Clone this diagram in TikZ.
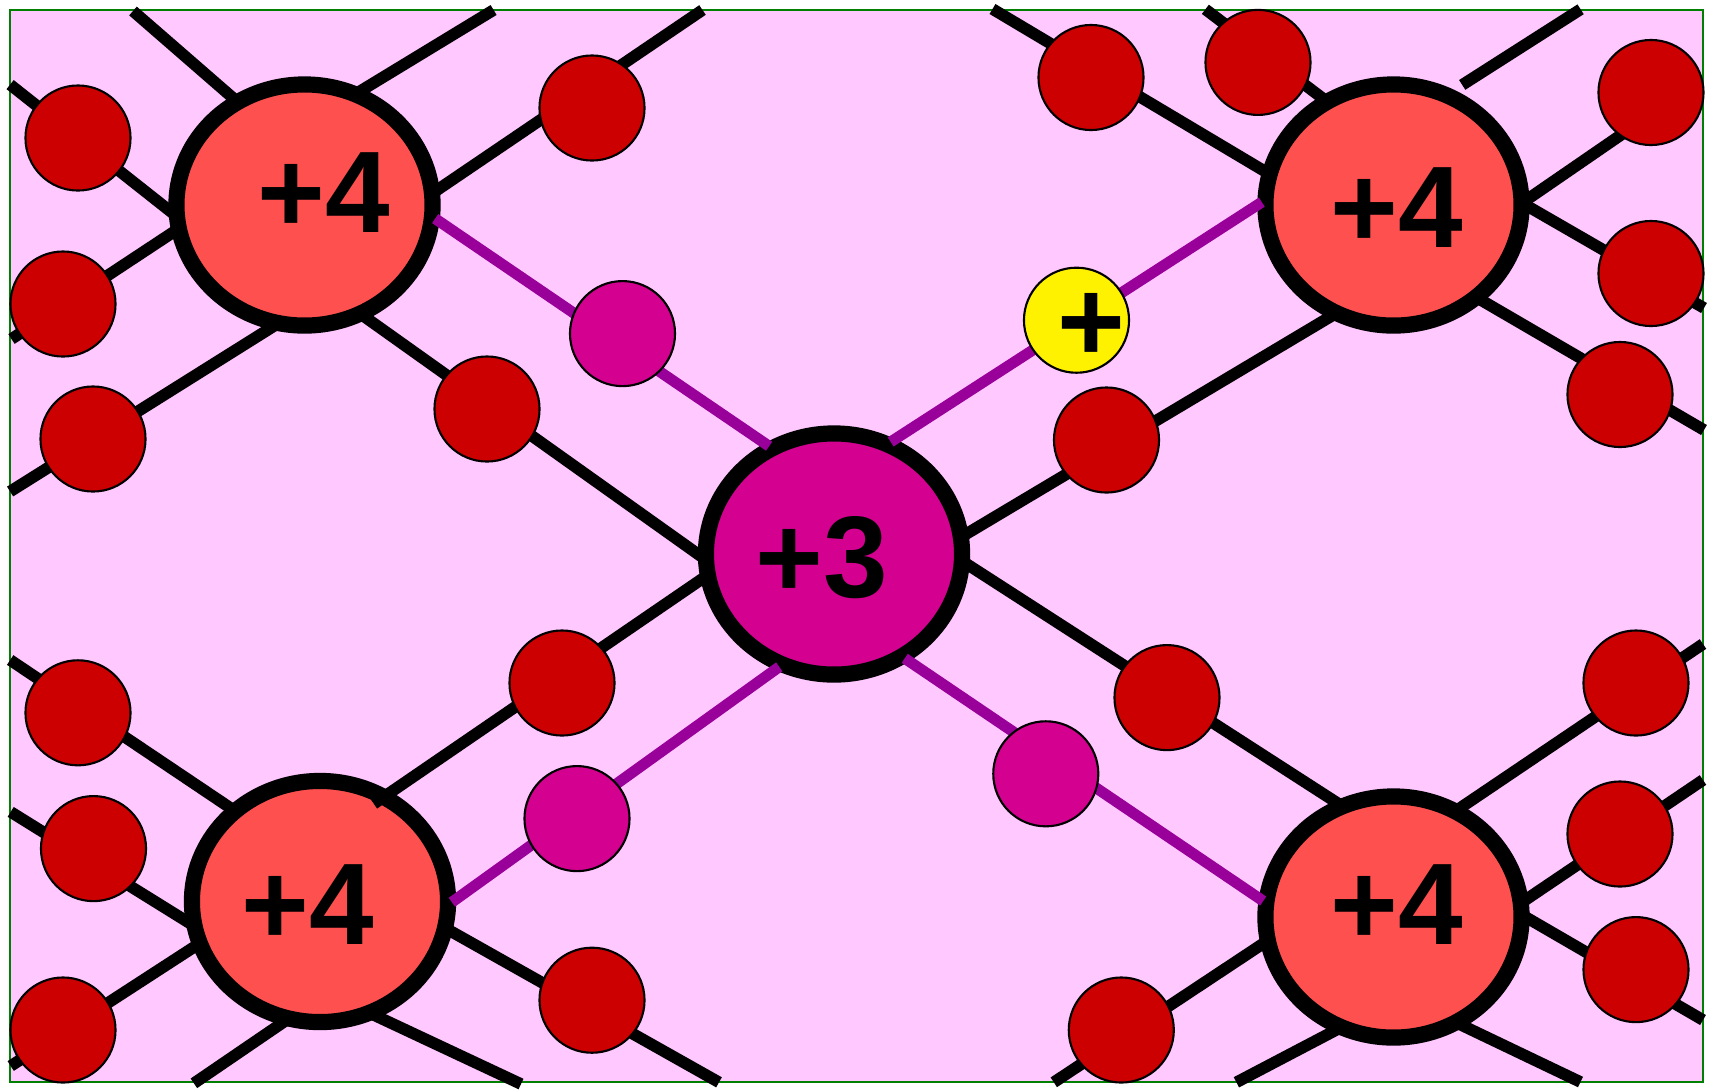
\documentclass[tikz,border=0pt]{standalone}
\usepackage{fontspec}
\setmainfont{Liberation Sans}
\usepackage{tikz}
\usetikzlibrary{shapes.geometric}

\definecolor{cellpink}{RGB}{255,200,255}
\definecolor{framegreen}{RGB}{0,128,0}
\definecolor{electronred}{RGB}{204,0,0}
\definecolor{ionred}{RGB}{255,80,80}
\definecolor{acceptor}{RGB}{212,0,144}
\definecolor{bondpurple}{RGB}{153,0,153}

\begin{document}
\begin{tikzpicture}[x=0.01cm, y=-0.01cm,
    core/.style={ellipse, draw, line width=4.6pt, minimum width=2.56cm, minimum height=2.41cm, inner sep=0pt},
    charge/.style={font=\fontsize{33}{33}\selectfont\bfseries, inner sep=0pt},
    electron/.style={circle, draw, line width=0.6pt, fill=electronred, minimum size=1.05cm, inner sep=0pt},
    bond/.style={line width=3.3pt, shorten <=-3pt},
    hole bond/.style={bondpurple, line width=3.1pt, shorten <=-1.5pt, shorten >=-1.5pt}]

    % Frame of the cell
    \useasboundingbox (0,0) rectangle (1714,1090);
    \fill[white] (0,0) rectangle (1714,1090);
    \filldraw[fill=cellpink, draw=framegreen, line width=0.6pt] (10,10) rectangle (1703,1082);

    % Ion cores
    \node[core, fill=ionred] (nw) at (304.5,205) {};
    \node[core, fill=ionred] (ne) at (1393.5,205) {};
    \node[core, fill=ionred] (sw) at (320,901.5) {};
    \node[core, fill=ionred] (se) at (1393.5,917) {};
    \node[core, fill=acceptor] (acc) at (834,554) {};
    \node[charge] (qnw) at (323.5,193) {+4};
    \node[charge] (qne) at (1396.6,208) {+4};
    \node[charge] (qsw) at (308,904.5) {+4};
    \node[charge] (qse) at (1396.8,904.5) {+4};
    \node[charge] (qacc) at (821.5,558) {+3};

    % Free ends of the bonds, on the frame
    \foreach \n/\x/\y in {top1/133/11, top2/493.6/10, top3/702.5/10, top4/992.5/9, top5/1205.4/9.3, top6/1580.6/9.3,
        left1/10.1/84.6, left2/11.5/339, left3/10.1/491.5, left4/10.2/660, left5/10.7/811.9, left6/10.7/1066,
        right1/1695/84, right2/1704/308, right3/1704/430, right4/1703/644, right5/1703/780, right6/1703/1020,
        bot1/193.9/1083.3, bot2/521/1084, bot3/719/1082.3, bot4/1053.8/1082.3, bot5/1236.4/1082.3, bot6/1580.5/1082,
        stub/1462.2/84.9}
        \coordinate (\n) at (\x,\y);

    % Bonds of the top left core
    \draw[bond] (nw.124) -- (top1);
    \draw[bond] (nw.63) -- (top2);
    \draw[bond] (nw.7) -- (top3);
    \draw[bond] (nw.182) -- (left1);
    \draw[bond] (nw.192) -- (left2);
    \draw[bond] (nw.254) -- (left3);

    % Bonds of the top right core
    \draw[bond] (ne.165) -- (top4);
    \draw[bond] (ne.124) -- (top5);
    \draw[bond] (ne.3) -- (right1);
    \draw[bond] (ne.359) -- (right2);
    \draw[bond] (ne.313) -- (right3);
    \draw[bond, shorten <=0pt] (stub) -- (top6);

    % Bonds of the bottom left core
    \draw[bond] (sw.134) -- (left4);
    \draw[bond] (sw.188) -- (left5);
    \draw[bond] (sw.200) -- (left6);
    \draw[bond] (sw.252) -- (bot1);
    \draw[bond] (sw.297) -- (bot2);
    \draw[bond] (sw.347) -- (bot3);

    % Bonds of the bottom right core
    \draw[bond] (se.58) -- (right4);
    \draw[bond] (se.8) -- (right5);
    \draw[bond] (se.359) -- (right6);
    \draw[bond] (se.303) -- (bot6);
    \draw[bond] (se.242) -- (bot5);
    \draw[bond] (se.192) -- (bot4);

    % Bonds between the cores
    \draw[bond, shorten >=-3pt] (nw.299) -- (acc.180);
    \draw[bond, shorten >=-3pt] (acc.9) -- (ne.240);
    \draw[bond, shorten >=-3pt] (acc.355) -- (se.117);
    \draw[bond, shorten >=-6pt] (acc.191) -- (sw.57);

    % Bonds of the +3 core
    \draw[hole bond] (nw.353) -- (acc.122);
    \draw[hole bond] (acc.62) -- (ne.180);
    \draw[hole bond] (acc.243) -- (sw.1);
    \draw[hole bond] (acc.305) -- (se.172);

    % Valence electrons
    \foreach \x/\y [count=\i] in {78/138, 63/304, 93/439, 592/108, 487/409, 1091/77.5, 1258/62.4,
        1651/92.5, 1651/273.5, 1620/394.5, 1106.5/440, 562/683, 78/712.8, 93.5/848.6, 63/1030,
        592/1000.2, 1167/697.6, 1121.3/1030, 1636/683, 1620/834, 1636/969.6}
        \node[electron] (e\i) at (\x,\y) {};
    \foreach \x/\y [count=\i] in {622.5/333.6, 577/818.6, 1045.8/773.8}
        \node[electron, fill=acceptor] (m\i) at (\x,\y) {};

    % The hole
    \node[electron, fill=yellow] (hole) at (1076.5,320.2) {};
    \node[charge] (plus) at (1091,327) {+};
\end{tikzpicture}
\end{document}
